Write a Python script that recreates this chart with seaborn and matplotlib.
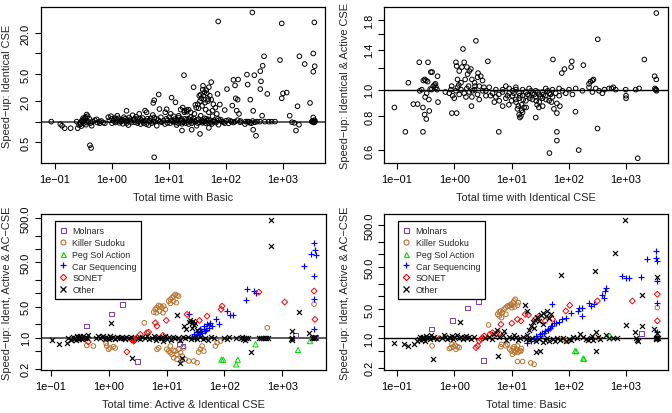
import numpy as np
import pandas as pd
import matplotlib
matplotlib.use("Agg")
import matplotlib.pyplot as plt
import seaborn as sns
from matplotlib.lines import Line2D
from matplotlib.ticker import NullLocator
from matplotlib.transforms import Bbox, TransformedBbox

# values: (total time, speed-up)
basic_vs_ident = [
    (73, 29.5), (290, 40), (950, 27.6), (3550, 28.6), (3400, 10), (465, 9.1), (885, 8.0), (1940, 9.1),
    (2400, 7.0), (3600, 6.5), (3400, 5.4), (400, 5.5), (440, 6.6), (233, 4.9), (314, 4.8), (18.3, 4.8),
    (135, 4.1), (163, 4.15), (55, 3.8), (240, 3.5), (411, 3.9), (144, 3.4), (39.5, 3.35), (27, 3.2),
    (50, 3.2), (104, 3.0), (400, 3.0), (39, 2.95), (71, 2.55), (1160, 2.67), (1000, 2.6), (530, 2.55),
    (6.6, 2.5), (950, 2.2), (148, 2.2), (160, 2.1), (267, 2.1), (34, 2.4), (36, 2.5), (11.1, 2.25),
    (5.5, 2.06), (5.3, 1.88), (2980, 1.88), (1800, 1.68), (13, 1.92), (49, 2.15), (78, 1.78), (129, 1.72),
    (17.4, 1.61), (20.5, 1.48), (29, 1.76), (33, 1.57), (95, 1.48), (154, 1.45), (169, 1.30), (300, 1.44),
    (430, 1.22), (1310, 1.22), (3400, 1.15), (1.8, 1.44), (3.8, 1.45), (9.1, 1.52), (0.36, 1.27), (0.34, 1.17),
    (16.9, 0.74), (35, 0.66), (336, 0.62), (300, 0.76), (1690, 0.74), (0.41, 0.45), (0.43, 0.41), (5.5, 0.30),
    (25, 0.76), (50, 0.81),
    (0.086, 1.0), (0.124, 0.92), (0.133, 0.87), (0.148, 0.80), (0.188, 0.80), (0.25, 0.80), (0.264, 0.89),
    (0.275, 0.95), (0.24, 1.0), (0.295, 1.03), (0.314, 1.07), (0.345, 1.12), (0.374, 1.2), (0.44, 0.87),
    (0.457, 1.0), (0.54, 1.08), (0.61, 0.945), (0.75, 0.945),
    (0.86, 1.16), (0.96, 1.20), (1.05, 1.03), (1.13, 1.13), (1.24, 1.22), (1.35, 0.96), (1.48, 1.07),
    (1.62, 1.16), (1.76, 1.0), (1.93, 0.89), (2.13, 1.09), (2.3, 1.24), (2.53, 0.98), (2.78, 1.09),
    (3.0, 1.30), (3.18, 0.92), (3.45, 1.13), (3.8, 1.03), (4.05, 1.37), (4.4, 0.89), (4.77, 1.12),
    (5.2, 1.25), (5.7, 1.0), (6.1, 0.87), (6.8, 1.53), (7.2, 1.16), (8.0, 1.03), (8.6, 1.37), (9.4, 0.96),
    (10.1, 1.16), (10.7, 1.30), (11.6, 1.0), (12.6, 1.09), (13.6, 0.89), (14.8, 1.22), (16.0, 1.03),
    (17.4, 0.98), (18.6, 1.37), (20.4, 1.07), (22.1, 0.92), (24, 1.16), (26, 1.0), (28, 1.30), (30.5, 0.87),
    (33, 1.09), (36, 1.22), (39, 0.96), (42, 1.12), (46, 1.03), (50, 1.37), (54, 0.96), (58, 1.20), (64, 1.0),
    (69, 1.30), (74, 0.90), (81, 1.07), (90, 0.98), (100, 1.03), (111, 0.945), (126, 1.0), (144, 1.0),
    (176, 0.98), (215, 0.92), (237, 1.0), (264, 0.96), (294, 1.02), (395, 1.0), (561, 1.0), (631, 1.0),
    (724, 1.0), (1440, 0.98), (1580, 0.96), (1910, 0.90), (3190, 1.0), (3310, 1.03), (3500, 1.0), (3640, 1.02),
    (16.0, 1.50), (18.6, 1.45), (20.4, 1.40), (22.1, 1.50), (24, 1.37),
    (0.9, 1.05), (1.0, 0.95), (1.1, 1.08), (1.2, 1.0), (1.3, 1.12), (1.4, 1.02), (1.55, 0.93), (1.7, 1.1),
    (1.85, 1.05), (2.0, 1.15), (2.2, 0.97), (2.4, 1.05), (2.65, 1.18), (2.9, 1.0), (3.3, 1.05), (3.6, 0.95),
    (4.2, 1.1), (4.6, 1.02), (5.0, 0.95), (5.5, 1.15), (6.5, 1.05), (7.5, 0.98), (9.0, 1.1), (11, 1.05),
    (12, 1.2), (13, 0.97), (14, 1.05), (15, 1.15), (17, 0.93), (19, 1.1), (21, 1.0), (23, 1.05), (25, 0.95),
    (27, 1.12), (29, 1.0), (31, 1.05), (34, 0.98), (38, 1.05), (41, 1.0), (44, 0.95), (48, 1.08), (52, 1.02),
    (56, 0.92), (62, 1.05), (67, 0.97), (72, 1.1), (85, 1.0), (95, 0.95), (120, 1.02), (135, 0.97),
    (160, 1.05), (250, 1.0), (280, 0.95), (350, 1.0), (3400, 1.0), (3450, 0.97), (3550, 1.05), (3600, 0.98),
    (0.28, 0.92), (0.30, 1.0), (0.32, 0.95), (0.33, 1.05), (0.35, 0.9), (0.38, 1.0), (0.40, 1.1), (0.42, 0.95),
    (0.45, 1.0), (0.5, 1.05), (0.55, 0.97), (0.6, 1.0), (0.65, 1.02), (0.7, 0.97),
    (30, 1.6), (32, 1.8), (35, 2.0), (37, 2.2), (40, 2.4), (42, 2.7), (45, 2.9), (38, 1.7), (43, 1.9),
    (48, 2.0), (52, 2.4), (55, 2.1), (60, 1.8), (65, 1.6), (44, 1.5), (58, 1.45), (46, 2.6), (41, 2.1),
    (1.0, 1.1), (1.15, 0.97), (1.25, 1.05), (1.45, 1.0), (1.6, 1.04), (1.8, 0.95), (2.1, 1.02), (2.5, 1.1),
    (2.8, 0.95), (3.1, 1.1), (3.5, 1.0), (4.0, 0.92), (4.5, 1.05), (5.3, 1.0), (6.0, 1.1), (7.0, 1.0),
    (8.5, 0.92), (9.5, 1.05), (10.5, 0.95), (12.5, 1.02), (14.5, 0.95), (16.5, 1.1), (18, 1.0), (20, 0.95),
    (22, 1.1), (26, 1.05), (32, 0.95), (37, 1.0), (45, 1.1), (50, 0.95), (60, 1.0), (75, 1.05), (110, 1.05),
    (180, 1.02), (220, 1.0), (320, 0.98), (480, 1.0), (0.36, 0.97), (0.31, 1.12), (0.29, 0.86),
]

ident_vs_active = [
    (3380, 1.91), (321, 1.53), (2.39, 1.51), (1.42, 1.41), (2090, 1.29), (53, 1.29), (3.86, 1.27),
    (0.245, 1.26), (0.348, 1.26), (180, 1.23), (113, 1.27), (110, 1.21), (84, 1.19), (75.5, 1.15),
    (3160, 1.12), (3380, 1.09), (0.158, 1.06), (0.51, 1.12),
    (0.09, 0.86), (0.193, 0.885), (0.229, 0.885), (0.52, 0.90), (0.284, 0.86), (0.304, 0.81), (0.325, 0.78),
    (0.366, 0.835), (0.91, 0.82), (1.1, 0.82), (2.0, 0.87), (0.14, 0.70), (0.284, 0.70), (6.0, 0.70),
    (62, 0.70), (62, 0.65), (46, 0.585), (131, 0.83), (26.5, 0.79), (318, 0.72), (149, 0.60), (1600, 0.56),
    (62, 0.82), (1000, 0.95),
    (12.7, 0.85), (13.6, 0.81), (14.6, 0.80), (15.6, 0.825), (16.6, 0.86), (14.0, 0.79), (13.2, 0.87), (15.1, 0.84),
    (1.07, 1.26), (1.1, 1.22), (1.22, 1.17), (1.36, 1.21), (1.49, 1.26), (1.66, 1.21), (1.83, 1.17), (1.95, 1.19),
    (1.71, 1.14), (1.55, 1.09), (1.31, 1.06), (1.14, 1.09), (2.03, 1.09), (2.26, 1.06), (2.55, 1.11), (2.73, 1.03),
    (3.12, 1.08), (3.57, 0.99), (1.78, 1.03), (2.09, 0.99),
    (0.288, 1.08), (0.304, 1.09), (0.32, 1.08), (0.343, 1.07), (0.39, 1.16), (0.41, 1.16), (0.43, 1.03),
    (0.47, 1.05), (0.38, 1.005), (0.48, 1.02),
    (0.82, 0.97), (0.875, 1.0), (0.935, 0.95), (1.0, 0.93), (1.07, 0.99), (1.14, 1.02), (1.22, 0.96), (1.31, 1.0),
    (1.49, 0.97), (1.66, 1.01), (1.83, 0.98), (2.03, 0.94), (2.26, 1.0), (2.55, 0.96), (2.73, 0.92), (3.12, 0.99),
    (3.57, 0.95), (4.07, 1.02), (4.66, 0.97), (5.33, 1.0), (5.33, 0.94), (6.1, 0.91), (6.97, 0.98), (7.96, 1.03),
    (7.96, 0.93), (9.1, 0.97), (9.1, 1.01), (10.4, 0.95), (10.4, 0.99), (11.9, 0.92), (11.9, 1.02), (13.6, 0.97),
    (13.6, 0.93), (15.6, 1.0), (15.6, 0.95), (17.8, 0.98), (17.8, 0.91), (20.3, 1.01), (20.3, 0.95), (23.2, 0.97),
    (23.2, 0.92), (26.5, 0.99), (26.5, 0.94), (30.4, 0.96), (30.4, 0.90), (34.7, 0.98), (34.7, 0.93), (39.7, 1.01),
    (39.7, 0.95), (45.4, 0.97), (45.4, 0.91), (51.9, 1.0), (51.9, 0.94), (59.3, 0.97), (67.8, 1.01), (67.8, 0.95),
    (77.6, 0.99), (88.7, 0.97), (101, 1.0), (116, 0.96), (132, 1.01), (173, 0.99), (226, 1.02), (259, 0.98),
    (296, 1.01), (338, 0.99), (386, 0.97), (505, 1.01), (660, 1.0), (987, 1.0), (1475, 1.0), (1690, 1.01),
    (3290, 1.0), (3350, 1.0), (3400, 0.99), (3200, 1.01), (1000, 0.93), (226, 1.05), (259, 1.08), (240, 1.07),
    (270, 1.09), (600, 1.02), (560, 1.01), (420, 1.0),
    (15, 0.88), (18, 0.86), (28, 0.88), (30, 0.86), (35, 0.87), (50, 0.90), (55, 0.85), (70, 0.87), (62, 0.89),
    (9, 0.88), (12, 0.9), (5, 0.90), (7, 0.87),
    (0.25, 0.99), (0.27, 1.0), (0.31, 0.94), (0.33, 0.97), (0.36, 0.92), (0.4, 1.0), (0.45, 1.04), (0.5, 1.0),
    (6, 0.96), (7, 1.0), (8.5, 0.95), (10, 0.91), (11, 0.97), (12, 1.0), (14, 0.95), (16, 0.92), (19, 0.96),
    (21, 0.93), (22, 0.99), (25, 0.96), (27, 0.91), (29, 0.98), (32, 0.94), (36, 0.96), (40, 0.92), (43, 0.99),
    (48, 0.96), (1.2, 1.04), (1.6, 0.94), (2.3, 1.03), (3.3, 1.02), (4.3, 0.95), (0.9, 1.03), (0.7, 0.98),
    (2.6, 1.15), (2.9, 1.12),
]

categories = ["Molnars", "Killer Sudoku", "Peg Sol Action", "Car Sequencing", "SONET", "Other"]

# bottom-left: total time with Active & Identical CSE
aic_molnars = [(0.415, 1.83), (1.1, 3.42), (1.73, 5.65), (2.86, 9.0), (3.14, 0.29), (16.6, 0.72),
               (19.2, 0.65), (1700, 1.13), (3780, 1.0), (3640, 0.98)]
aic_killer = [
    (0.415, 0.67), (0.90, 0.745), (0.92, 0.65), (0.99, 0.55), (1.05, 0.59), (1.2, 0.63), (1.29, 0.585),
    (4.1, 2.18), (5.96, 3.79), (6.36, 4.36), (6.8, 4.75), (7.26, 5.36), (7.77, 5.18), (8.3, 4.75), (8.87, 5.18),
    (6.62, 3.66), (7.56, 4.0), (8.64, 3.66), (9.48, 4.36), (10.8, 6.7), (11.6, 7.3), (12.4, 8.0), (13.2, 8.7),
    (14.1, 9.5), (15.1, 9.0), (16.1, 8.7), (13.2, 6.7), (14.7, 6.2), (11.6, 5.95),
    (10.1, 0.55), (10.8, 0.50), (11.6, 0.46), (12.4, 0.42), (13.2, 0.52), (14.1, 0.50), (15.1, 0.42),
    (16.1, 0.55), (17.3, 0.46), (18.5, 0.385), (19.7, 0.59), (11.6, 0.65), (13.2, 0.354), (15.1, 0.325),
    (18.5, 0.313), (21.1, 0.325), (24.1, 0.298), (29.4, 0.298), (33.6, 0.273), (35.9, 0.475), (38.4, 0.55),
    (41, 0.65), (43.9, 0.50), (6.8, 0.55), (7.26, 0.59), (69.8, 0.65), (74.6, 0.77), (85.3, 0.84),
    (550, 1.68), (3540, 5.75), (3540, 1.0), (0.54, 0.65),
]
aic_pegsol = [(88.7, 0.32), (95, 0.32), (159, 0.25), (170, 0.32), (345, 0.71), (1870, 0.53), (3020, 0.84)]
aic_carseq = [
    (29.4, 1.19), (33.6, 1.34), (38.4, 1.54), (43.9, 1.83), (50, 2.0), (57, 2.18), (31.4, 1.0), (35.9, 1.19),
    (41, 1.30), (46.9, 1.41), (53.5, 1.68), (61, 1.83), (72.6, 2.59), (79.7, 2.0), (111, 4.0), (127, 3.19),
    (141, 3.19), (250, 12.3), (345, 10.4), (238, 7.07), (323, 11.3), (2380, 41.4), (3540, 134), (3680, 98),
    (3190, 75.8), (3780, 72), (3540, 24.6), (3540, 7.3), (3540, 1.54), (24.1, 3.36),
    (27, 1.05), (30, 1.1), (34, 1.15), (37, 1.25), (40, 1.4), (45, 1.6), (48, 1.5), (55, 1.9),
]
aic_sonet = [
    (0.44, 0.81), (2.05, 0.48), (2.5, 0.89), (2.68, 0.84), (3.06, 1.0), (2.86, 0.92), (3.5, 1.19), (4.56, 1.30),
    (4.88, 1.34), (6.36, 2.18), (6.8, 1.83), (9.85, 2.46), (8.6, 1.13), (22.5, 3.36), (36.8, 2.46), (50, 3.08),
    (91, 5.18), (87.5, 4.36), (1100, 6.38), (3540, 11.3), (3680, 2.59), (394, 10.7), (2.6, 0.95), (2.75, 0.88),
]
aic_other = [
    (628, 451), (644, 117), (1946, 3.79), (1.1, 2.18), (2.54, 0.35), (17.3, 0.27), (290, 0.48), (15.1, 3.19),
    (18.5, 0.35), (1490, 1.41), (2900, 1.30), (0.103, 0.89), (0.14, 0.73), (0.187, 0.77), (0.2, 1.0),
    (24.1, 2.3), (25.5, 2.5), (27, 2.2), (28.5, 2.4), (29.4, 1.9), (27, 1.7), (31, 2.1), (22, 1.6), (33, 1.5), (20, 1.8),
    (0.22, 0.9), (0.24, 1.05), (0.25, 0.95), (0.26, 1.0), (0.27, 0.88), (0.28, 1.1), (0.29, 0.97), (0.3, 1.02),
    (0.31, 0.93), (0.32, 1.08), (0.33, 1.0), (0.34, 0.95), (0.36, 1.12), (0.38, 1.0), (0.4, 1.05), (0.42, 0.98),
    (0.44, 1.15), (0.6, 1.0), (0.65, 1.08), (0.7, 0.97), (0.75, 1.02), (0.8, 1.12), (0.85, 0.95), (0.9, 1.05),
    (0.95, 1.0), (1.0, 0.92), (1.05, 1.08), (1.1, 0.98), (1.2, 1.03), (1.3, 0.95), (1.4, 1.06), (1.5, 1.0),
    (1.6, 0.97), (1.7, 1.04), (1.8, 1.0), (1.9, 0.96), (2.0, 1.02), (2.2, 0.98), (2.4, 1.05),
    (3.2, 1.0), (3.5, 0.95), (3.8, 1.03), (4.2, 0.98), (4.6, 1.08), (5.0, 0.93), (5.5, 1.0), (6.0, 1.1),
    (6.5, 0.9), (7.0, 1.0), (7.5, 1.05), (8.0, 0.97), (8.5, 0.85), (9.0, 1.0), (9.5, 1.12), (10, 0.95),
    (11, 1.02), (12, 0.9), (13, 1.05), (14, 0.97), (16, 1.0), (17, 0.88), (19, 1.06), (21, 0.97), (23, 1.02),
    (26, 0.95), (30, 1.0), (34, 0.92), (38, 1.03), (42, 0.96), (46, 1.0), (52, 0.9), (58, 1.05), (65, 0.97),
    (100, 1.0), (110, 0.95), (120, 1.03), (160, 1.0), (190, 0.97), (200, 1.02), (210, 0.93), (220, 1.0),
    (230, 0.9), (240, 0.98), (260, 1.0), (400, 1.0), (430, 1.0), (460, 1.0), (500, 1.0), (520, 0.98),
    (560, 1.0), (1400, 0.92), (1450, 1.0), (1500, 0.88), (3300, 1.0), (3500, 0.97), (3600, 1.0), (3700, 1.02),
]

# bottom-right: total time with Basic
basic_molnars = [(0.40, 1.67), (0.94, 2.68), (1.71, 5.28), (2.62, 7.46), (3.25, 0.30), (1875, 1.32)]
basic_killer = [
    (0.41, 0.66), (0.82, 0.57), (0.875, 0.60), (0.96, 0.63), (1.04, 0.68), (1.14, 0.63), (1.22, 0.60),
    (0.91, 0.72), (1.07, 0.55), (3.97, 2.08), (5.7, 3.73), (6.1, 4.24), (6.5, 4.47), (6.97, 4.08), (7.4, 4.9),
    (7.96, 5.37), (8.5, 5.89), (6.1, 3.4), (6.7, 3.1), (7.96, 3.73), (9.1, 5.89), (9.7, 6.45), (10.1, 6.1),
    (10.7, 7.06), (11.1, 7.74), (11.6, 8.5), (12.7, 6.1), (11.4, 5.57), (10.1, 5.37), (13.2, 7.06),
    (7.96, 0.66), (8.5, 0.72), (9.3, 0.55), (9.9, 0.50), (10.7, 0.57), (11.4, 0.46), (11.9, 0.50), (12.2, 0.55),
    (13.0, 0.46), (13.8, 0.50), (12.7, 0.66), (14.9, 0.57), (11.1, 0.63), (14.6, 0.50), (10.4, 0.42),
    (6.5, 0.63), (6.7, 0.72), (15.6, 0.28), (21.7, 0.26), (24.8, 0.24), (12.7, 0.28),
    (77.6, 0.95), (92, 0.86), (338, 0.98), (3520, 5.37), (3520, 1.0),
]
basic_pegsol = [(129, 0.50), (136, 0.49), (178, 0.33), (185, 0.32), (519, 1.14), (3475, 1.0)]
basic_carseq = [
    (19.0, 0.79), (21.7, 0.86), (24.8, 0.95), (28.4, 1.04), (31.2, 1.25), (34.7, 1.36), (38.7, 1.50),
    (42.5, 1.58), (46.6, 1.79), (51.9, 1.97), (59.3, 2.28), (67.8, 2.45), (77.6, 2.83), (88.7, 3.1),
    (26.5, 1.14), (37.2, 1.36), (50.5, 6.45), (108, 3.94), (142, 4.47), (151, 5.37), (169, 5.37), (173, 3.4),
    (226, 7.06), (242, 5.89), (277, 6.45), (386, 10.6), (430, 13.4), (454, 16.1), (413, 9.3), (863, 30.5),
    (987, 27.8), (1127, 27.8), (1800, 29.4), (2350, 76), (3380, 120), (3380, 83), (3430, 69), (3520, 23.2),
    (3520, 7.06), (3520, 1.42), (3430, 0.98), (48, 2.0), (55, 2.3), (32, 1.15), (44, 1.7),
]
basic_sonet = [
    (0.547, 0.98), (2.39, 0.60), (2.55, 0.66), (2.73, 0.86), (2.92, 0.95), (3.12, 1.04), (3.33, 1.14),
    (4.19, 1.25), (4.66, 1.36), (5.33, 1.27), (6.1, 1.32), (6.52, 2.15), (10.1, 2.28), (12.7, 2.83),
    (14.6, 2.59), (17.3, 3.73), (19.8, 3.6), (25.9, 2.83), (30.4, 3.4), (38.7, 2.59), (51.9, 2.83),
    (88.7, 4.47), (104, 6.1), (316, 7.74), (1290, 7.74), (3520, 11.2), (3520, 2.59),
]
basic_other = [
    (948, 657), (643, 110), (74.5, 32.8), (288, 40), (3520, 28.8), (1875, 10.6), (17.3, 6.2), (1.26, 2.45),
    (0.43, 0.33), (5.7, 0.37), (296, 0.50), (0.09, 0.79), (0.134, 0.72), (0.153, 0.66), (0.2, 0.72),
    (987, 2.04), (1875, 1.97), (1435, 1.42), (3080, 1.64), (3520, 1.36), (26.5, 0.46), (31, 0.50), (259, 1.14),
    (22, 2.0), (24, 2.4), (26, 2.8), (28, 3.2), (30, 2.6), (33, 3.6), (36, 4.0), (40, 3.4), (45, 3.0),
    (20, 1.6), (25, 1.8), (35, 2.2), (42, 4.4), (48, 3.8), (19, 4.5),
    (0.22, 0.85), (0.24, 0.95), (0.25, 1.05), (0.26, 0.9), (0.27, 1.0), (0.28, 1.1), (0.29, 0.95), (0.3, 1.02),
    (0.31, 0.88), (0.32, 1.15), (0.34, 1.0), (0.36, 1.08), (0.38, 0.95), (0.4, 1.2), (0.42, 1.0), (0.45, 1.1),
    (0.5, 0.95), (0.6, 1.0), (0.65, 1.2), (0.7, 1.05), (0.75, 0.97), (0.8, 1.1), (0.85, 1.0), (0.9, 1.15),
    (0.95, 0.95), (1.0, 1.05), (1.1, 1.2), (1.2, 1.0), (1.3, 1.1), (1.4, 0.97), (1.5, 1.05), (1.6, 1.15),
    (1.7, 1.0), (1.8, 1.08), (2.0, 0.95), (2.2, 1.1), (3.5, 1.0), (4, 1.1), (4.5, 0.95), (5, 1.3), (5.5, 1.6),
    (6, 1.05), (7, 1.2), (7.5, 1.5), (8, 0.92), (9, 1.1), (10, 1.0), (11, 1.2), (12, 1.05), (13, 0.9),
    (14, 1.0), (16, 1.1), (18, 0.95), (19, 1.2), (20, 0.9), (23, 1.0), (27, 0.85), (30, 0.95), (35, 0.8),
    (38, 0.9), (42, 1.0), (46, 0.85), (52, 0.95), (58, 0.88), (63, 1.0), (70, 0.9), (80, 1.02), (90, 0.85),
    (100, 0.95), (110, 0.9), (120, 1.1), (140, 1.0), (160, 1.25), (180, 1.05), (200, 0.95), (220, 0.9),
    (240, 1.0), (260, 0.92), (300, 1.4), (320, 1.05), (350, 0.98), (450, 1.2), (500, 1.0), (600, 1.0),
    (700, 1.0), (1500, 1.0), (1550, 0.9), (1600, 0.85), (3300, 1.0), (3400, 0.97), (3500, 1.02), (3600, 1.0),
]

x_ticks = [0.1, 1, 10, 100, 1000]
x_ticklabels = ["1e\u221201", "1e+00", "1e+01", "1e+02", "1e+03"]

W, H = 672, 414
FONT = 7.9
sns.set_style("white")
plt.rcParams["font.family"] = ["Liberation Sans", "DejaVu Sans"]

fig = plt.figure(figsize=(W / 100, H / 100), dpi=100)


def px_axes(left, top, right, bottom):
    return fig.add_axes([left / W, 1 - bottom / H, (right - left) / W, (bottom - top) / H])


def style(ax, xlim, ylim, yticks, ylabels):
    ax.set_xscale("log")
    ax.set_yscale("log")
    ax.set_xlim(xlim)
    ax.set_ylim(ylim)
    ax.set_xticks(x_ticks)
    ax.set_xticklabels(x_ticklabels)
    ax.set_yticks(yticks)
    ax.set_yticklabels(ylabels, rotation=90, va="center")
    ax.xaxis.set_minor_locator(NullLocator())
    ax.yaxis.set_minor_locator(NullLocator())
    ax.tick_params(direction="out", length=4.3, width=0.8, labelsize=FONT, colors="black",
                   bottom=True, left=True, top=False, right=False)
    ax.tick_params(axis="x", pad=3.5)
    ax.tick_params(axis="y", pad=3)
    for sp in ax.spines.values():
        sp.set_linewidth(0.9)
        sp.set_color("black")
    ax.set_xlabel("")
    ax.set_ylabel("")


def label(x, y, s, rot=0, va="center", clip=None):
    t = fig.text(x / W, 1 - y / H, s, rotation=rot, ha="center", va=va, fontsize=FONT)
    if clip is not None:
        t.set_clip_on(True)
        t.set_clip_box(TransformedBbox(Bbox(clip), fig.transFigure))
    return t


def open_points(ax, pts, marker, color, s=11):
    df = pd.DataFrame(pts, columns=["time", "speedup"])
    if marker in ("+", "x"):
        sns.scatterplot(data=df, x="time", y="speedup", ax=ax, marker=marker, color=color,
                        s=s, linewidth=0.85, legend=False)
    else:
        sns.scatterplot(data=df, x="time", y="speedup", ax=ax, marker=marker, facecolor="none",
                        edgecolor=color, s=s, linewidth=0.7, legend=False)


# top-left
ax1 = px_axes(41, 8, 325, 164)
ax1.axhline(1.0, color="#5a5a5a", lw=1.4, zorder=1)
open_points(ax1, basic_vs_ident, "o", "black")
style(ax1, (0.0568, 5458), (0.247, 48.1), [0.5, 1, 2, 5, 10, 20], ["0.5", "", "2.0", "5.0", "", "20.0"])
label(183, 198, "Total time with Basic")
label(7, 86, "Speed\u2212up: Identical CSE", rot=90)

# top-right
ax2 = px_axes(384.3, 8, 667.7, 164)
ax2.axhline(1.0, color="black", lw=1.0, zorder=1)
open_points(ax2, ident_vs_active, "o", "black")
style(ax2, (0.06, 5346), (0.538, 2.01), [0.6, 0.8, 1.0, 1.2, 1.4, 1.6, 1.8],
      ["0.6", "0.8", "1.0", "", "1.4", "", "1.8"])
label(526, 198, "Total time with Identical CSE")
label(345, 86, "Speed\u2212up: Identical & Active CSE", rot=90)

# bottom panels
colors = ["#7E3FA8", "#B8732E", "#00D800", "#0000FF", "#FF0000", "black"]
markers = ["s", "o", "^", "+", "D", "x"]
sizes = [11, 11, 14, 20, 9, 13]
log_ticks = [0.2, 0.5, 1, 2, 5, 10, 20, 50, 100, 200, 500]
log_labels = ["0.2", "", "1.0", "", "5.0", "", "", "50.0", "", "", "500.0"]


def legend(ax):
    handles = []
    for c, m, name in zip(colors, markers, categories):
        if m in ("+", "x"):
            h = Line2D([], [], ls="none", marker=m, color=c, markersize=4.0, markeredgewidth=0.9)
        else:
            h = Line2D([], [], ls="none", marker=m, markerfacecolor="none", markeredgecolor=c,
                       markersize=3.6 if m != "D" else 3.2, markeredgewidth=0.8)
        handles.append(h)
    lg = ax.legend(handles, categories, loc="upper left", bbox_to_anchor=(0.048, 0.955),
                   fontsize=6.4, frameon=True, fancybox=False, framealpha=1, edgecolor="black",
                   borderpad=0.5, labelspacing=0.33, handlelength=0.9, handletextpad=0.6,
                   borderaxespad=0)
    lg.get_frame().set_linewidth(0.9)


ax3 = px_axes(41, 215.3, 325.7, 371)
ax3.axhline(1.0, color="#5a5a5a", lw=1.4, zorder=1)
for pts, c, m, s in zip([aic_molnars, aic_killer, aic_pegsol, aic_carseq, aic_sonet, aic_other],
                        colors, markers, sizes):
    open_points(ax3, pts, m, c, s)
style(ax3, (0.0671, 5636), (0.187, 611), log_ticks, log_labels)
legend(ax3)
label(183, 405, "Total time: Active & Identical CSE")
label(7, 380, "Speed\u2212up: Ident, Active & AC\u2212CSE", rot=90, va="bottom",
      clip=[[0, 0], [0.5, 0.5]])

ax4 = px_axes(384.3, 215.3, 668.3, 371)
ax4.axhline(1.0, color="black", lw=1.0, zorder=1)
for pts, c, m, s in zip([basic_molnars, basic_killer, basic_pegsol, basic_carseq, basic_sonet, basic_other],
                        colors, markers, sizes):
    open_points(ax4, pts, m, c, s)
style(ax4, (0.06, 5470), (0.176, 895), log_ticks, log_labels)
legend(ax4)
label(526, 405, "Total time: Basic")
label(345, 380, "Speed\u2212up: Ident, Active & AC\u2212CSE", rot=90, va="bottom",
      clip=[[0.5, 0], [1, 0.5]])

fig.savefig("out.png", dpi=100)
